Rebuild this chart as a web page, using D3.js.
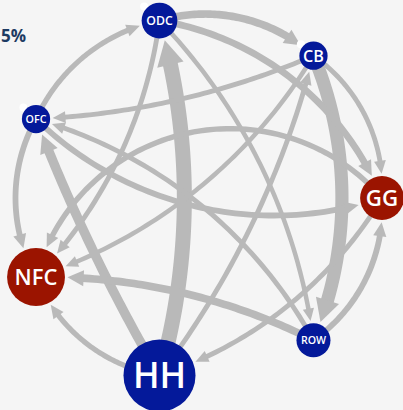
<!DOCTYPE html>
<html><head><meta charset="utf-8">
<script src="https://cdn.jsdelivr.net/npm/d3@7"></script>
<style>html,body{margin:0;padding:0;background:#f5f5f5;overflow:hidden}</style>
</head><body><svg id="chart" width="403" height="410"></svg>
<script>
// ---- data ----
const sectors      = ["GG", "ROW", "HH", "NFC", "OFC", "ODC", "CB"];
const sectorSize   = [48, 29, 130, 84, 20, 32, 20];
const sectorGroup  = ["net borrower", "net lender", "net lender", "net borrower", "net lender", "net lender", "net lender"];
const flagged      = ["ODC", "OFC", "CB"];
const headline     = "15%";

const linkSource = ["ODC","OFC","CB","HH","ROW","OFC","HH","CB","ODC","ODC","HH","CB","ODC","GG","OFC","ROW","CB","GG","HH","ROW"];
const linkTarget = ["CB","ODC","GG","NFC","GG","NFC","ODC","ROW","GG","ROW","CB","NFC","NFC","NFC","GG","OFC","OFC","HH","OFC","NFC"];
const linkValue  = [35, 22, 20, 22, 25, 25, 75, 65, 30, 18, 20, 18, 20, 23, 25, 20, 20, 20, 45, 35];
// curvature of each link (signed sagitta / chord; + bends to the left of travel)
const linkBend   = [0.13, 0.12, 0.13, 0.13, -0.13, -0.13, -0.07, 0.10, 0.13, 0.08, -0.05, 0.09, 0.08, -0.30, -0.14, -0.10, 0.045, 0.09, 0.02, -0.06];

// ---- layout ----
const W = 403, H = 410, cx = 200, cy = 198, R = 182;
const svg = d3.select("#chart");

const angle = d3.scalePoint().domain(sectors).range([0, 2 * Math.PI * (sectors.length - 1) / sectors.length]);
const rScale = d3.scaleSqrt().domain([0, d3.max(sectorSize)]).range([0, 36]);
const wScale = d3.scaleLinear().domain([0, d3.max(linkValue)]).range([1.2, 15]);
const color = d3.scaleOrdinal().domain(["net borrower", "net lender"]).range(["#9b1400", "#04199a"]);

const nodes = sectors.map((id, i) => ({
  id, r: rScale(sectorSize[i]), group: sectorGroup[i],
  x: cx + R * Math.cos(angle(id)), y: cy + R * Math.sin(angle(id))
}));
const byId = new Map(nodes.map(n => [n.id, n]));

const links = linkSource.map((s, i) => ({
  source: byId.get(s), target: byId.get(linkTarget[i]), value: linkValue[i], bend: linkBend[i]
}));

function arcFn(p1, p2, k) {
  const dx = p2.x - p1.x, dy = p2.y - p1.y, c = Math.hypot(dx, dy);
  const s = Math.abs(k) * c;
  if (s < 0.5) return t => [p1.x + dx * t, p1.y + dy * t];
  const ux = dx / c, uy = dy / c, nx = uy, ny = -ux, sg = k >= 0 ? 1 : -1;
  const r = (c * c / 4 + s * s) / (2 * s);
  const mx = (p1.x + p2.x) / 2, my = (p1.y + p2.y) / 2;
  const Cx = mx - nx * sg * (r - s), Cy = my - ny * sg * (r - s);
  const a1 = Math.atan2(p1.y - Cy, p1.x - Cx), a2 = Math.atan2(p2.y - Cy, p2.x - Cx);
  let da = a2 - a1;
  while (da > Math.PI) da -= 2 * Math.PI;
  while (da < -Math.PI) da += 2 * Math.PI;
  return t => [Cx + r * Math.cos(a1 + da * t), Cy + r * Math.sin(a1 + da * t)];
}
const dist = (a, b) => Math.hypot(a[0] - b[0], a[1] - b[1]);
function search(lo, hi, outside) {
  for (let i = 0; i < 50; i++) { const m = (lo + hi) / 2; if (outside(m)) lo = m; else hi = m; }
  return (lo + hi) / 2;
}

const line = d3.line();
const gLinks = svg.append("g");
const gHeads = svg.append("g");
const edgeColor = "#b9b9b9";

links.forEach(l => {
  const f = arcFn(l.source, l.target, l.bend);
  const w = wScale(l.value);
  const tgt = [l.target.x, l.target.y];
  const tTip = search(0.3, 1, t => dist(f(t), tgt) > l.target.r + 2.5);
  const tip = f(tTip);
  const La = 1.2 * w + 7, Wa = 1.5 * w + 4.5;
  const tBase = search(0.1, tTip, t => dist(f(t), tip) > La);
  const tJoin = search(0.1, tTip, t => dist(f(t), tip) > La - 1.5);
  const pts = d3.range(0, 61).map(i => f(tJoin * i / 60));
  gLinks.append("path").attr("d", line(pts))
    .attr("fill", "none").attr("stroke", edgeColor).attr("stroke-width", w);
  const base = f(tBase);
  const ddx = tip[0] - base[0], ddy = tip[1] - base[1], dl = Math.hypot(ddx, ddy);
  const px = -ddy / dl, py = ddx / dl;
  gHeads.append("path")
    .attr("d", line([tip, [base[0] + px * Wa / 2, base[1] + py * Wa / 2], [base[0] - px * Wa / 2, base[1] - py * Wa / 2]]) + "Z")
    .attr("fill", edgeColor);
});

// small badges
svg.append("g").selectAll("circle").data(nodes.filter(n => flagged.includes(n.id))).join("circle")
  .attr("cx", d => d.x + (d.r + 3) * Math.cos(-2.4))
  .attr("cy", d => d.y + (d.r + 3) * Math.sin(-2.4))
  .attr("r", 4).attr("fill", "#ffffff");

const gNodes = svg.append("g").selectAll("g").data(nodes).join("g")
  .attr("transform", d => `translate(${d.x},${d.y})`);
gNodes.append("circle").attr("r", d => d.r).attr("fill", d => color(d.group));
gNodes.append("text").text(d => d.id)
  .attr("text-anchor", "middle").attr("dy", "0.36em")
  .attr("fill", "#ffffff").attr("font-family", "'Open Sans', sans-serif").attr("font-weight", 600)
  .attr("font-size", 20)
  .each(function (d) {
    const len = this.getComputedTextLength();
    this.setAttribute("font-size", (20 * 1.48 * d.r / len).toFixed(2));
  });

svg.append("text").attr("x", 26).attr("y", 42).attr("text-anchor", "end")
  .attr("font-family", "'Open Sans', sans-serif").attr("font-weight", 700).attr("font-size", 17)
  .attr("fill", "#1d3b62").text(headline);
</script>
</body></html>
